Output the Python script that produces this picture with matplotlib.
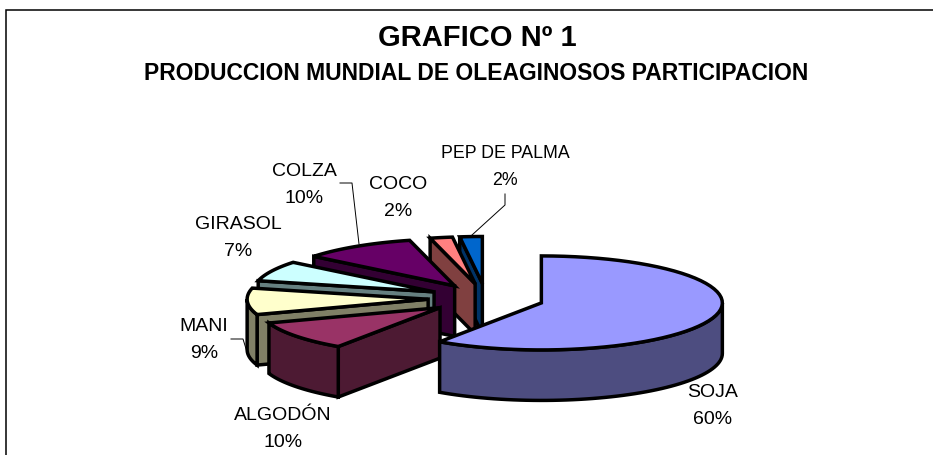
import numpy as np
import matplotlib
matplotlib.use("Agg")
import matplotlib.pyplot as plt
from matplotlib.patches import Polygon

categories = ["SOJA", "ALGODÓN", "MANI", "GIRASOL", "COLZA", "COCO", "PEP DE PALMA"]
shares = [59.5, 10.2, 9.1, 7.0, 10.2, 2.0, 2.0]
top_colors = ["#9999FF", "#993366", "#FFFFCC", "#CCFFFF", "#660066", "#FF8080", "#0066CC"]
side_colors = ["#4D4D80", "#4D1A33", "#808066", "#668080", "#330033", "#804040", "#003366"]
label_xy = [(713, 406), (283, 429), (204, 340), (238, 238), (304, 185), (398, 198), (505, 167)]
label_size = [14, 14, 14, 14, 14, 14, 12.8]

CX, CY, RX, RY, DEPTH, EXPLODE = 486, 299.5, 181, 47, 50.5, 0.32
LW = 2.5

plt.rcParams["font.family"] = ["Liberation Sans", "DejaVu Sans"]
fig = plt.figure(figsize=(9.33, 4.56), dpi=100)
ax = fig.add_axes([0, 0, 1, 1])
ax.set_xlim(0, 933)
ax.set_ylim(456, 0)
ax.axis("off")

# chart frame (only left and top edges fall inside the page)
ax.plot([5.5, 5.5, 933], [456, 10.5, 10.5], color="black", lw=1.1, solid_joinstyle="miter")

ax.text(477, 38, "GRAFICO Nº 1", ha="center", va="center", fontsize=21, fontweight="bold")
ax.text(476.5, 73, "PRODUCCION MUNDIAL DE OLEAGINOSOS PARTICIPACION",
        ha="center", va="center", fontsize=16.45, fontweight="bold")


def rim(cx, cy, a0, a1, n=60):
    t = np.radians(np.linspace(a0, a1, n))
    return np.column_stack([cx + RX * np.sin(t), cy - RY * np.cos(t)])


def face(points, color, z):
    ax.add_patch(Polygon(points, closed=True, facecolor=color, edgecolor="black",
                         lw=LW, joinstyle="miter", zorder=z))


cum = np.concatenate([[0], np.cumsum(shares)]) / sum(shares) * 360
# painter's order: back slices first, the largest one last
order = [6, 5, 4, 3, 2, 1, 0]
for z, i in enumerate(order):
    a0, a1 = cum[i], cum[i + 1]
    mid = np.radians((a0 + a1) / 2)
    cx = CX + EXPLODE * RX * np.sin(mid)
    cy = CY - EXPLODE * RY * np.cos(mid)
    base = 10 + z * 5
    # cut face at the start angle, shown when it looks at the viewer
    if np.sin(np.radians(a0)) < -1e-6:
        p = rim(cx, cy, a0, a0, 1)[0]
        face([(cx, cy), p, (p[0], p[1] + DEPTH), (cx, cy + DEPTH)], side_colors[i], base)
    # outer wall, front half only
    lo, hi = max(a0, 90), min(a1, 270)
    if hi > lo:
        edge = rim(cx, cy, lo, hi)
        face(np.vstack([edge, (edge + [0, DEPTH])[::-1]]), side_colors[i], base + 1)
    # top face
    face(np.vstack([[(cx, cy)], rim(cx, cy, a0, a1)]), top_colors[i], base + 2)

for name, val, (x, y), size in zip(categories, shares, label_xy, label_size):
    ax.text(x, y, f"{name}\n{round(val)}%", ha="center", va="center", fontsize=size,
            linespacing=1.8, zorder=100)

# leader lines
ax.plot([340, 352, 359], [184, 184, 245], color="black", lw=0.7, zorder=100)
ax.plot([231, 243, 247], [340, 340, 353], color="black", lw=0.7, zorder=100)
ax.plot([505, 505, 472], [195, 206, 236], color="black", lw=0.7, zorder=100)

fig.savefig("out.png", dpi=100)
